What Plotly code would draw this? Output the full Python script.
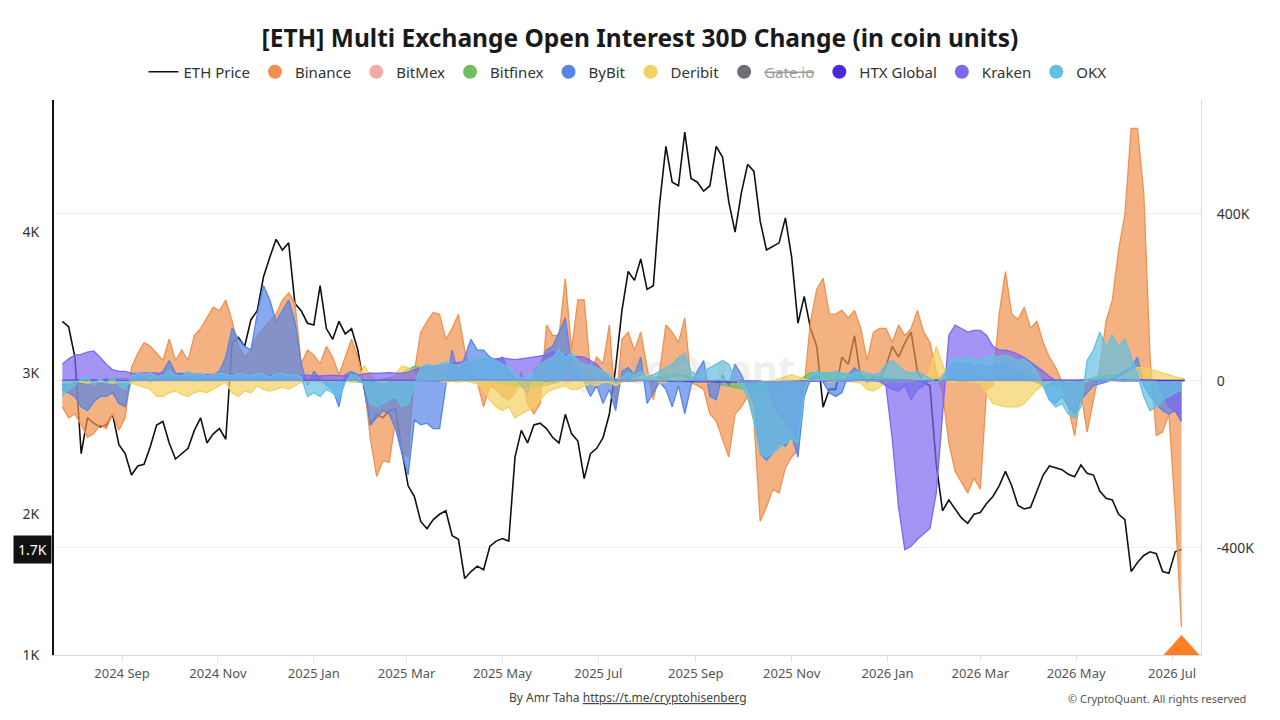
import pandas as pd
import plotly.graph_objects as go

# ---------------- data ----------------
# 4-day sampling for the main series, 14-day sampling for the near-zero ones
dates = pd.date_range("2024-07-25", periods=179, freq="4D")
dates_small = pd.date_range("2024-07-25", periods=52, freq="14D")

eth_price = [
    3366, 3328, 3112, 2428, 2682, 2644, 2618, 2631, 2707, 2492,
    2428, 2276, 2340, 2352, 2479, 2631, 2656, 2504, 2390, 2428,
    2466, 2593, 2682, 2504, 2568, 2606, 2530, 3214, 3252, 3188,
    3378, 3441, 3682, 3821, 3948, 3872, 3923, 3492, 3441, 3353,
    3340, 3619, 3315, 3239, 3366, 3277, 3315, 3163, 2910, 2631,
    2707, 2682, 2732, 2745, 2454, 2200, 2124, 1947, 1896, 1960,
    1998, 2023, 1846, 1820, 1542, 1592, 1630, 1605, 1770, 1808,
    1826, 1808, 2403, 2593, 2504, 2631, 2644, 2606, 2542, 2504,
    2707, 2568, 2517, 2251, 2428, 2466, 2542, 2707, 3036, 3441,
    3720, 3657, 3809, 3593, 3619, 4201, 4607, 4353, 4328, 4708,
    4379, 4353, 4290, 4328, 4607, 4531, 4214, 3999, 4277, 4480,
    4430, 4075, 3872, 3897, 3923, 4100, 3821, 3353, 3543, 3315,
    3188, 2758, 2884, 2884, 3112, 3062, 3264, 2960, 2935, 2973,
    2960, 3049, 3188, 3112, 3214, 3290, 3011, 2935, 2910, 2352,
    2023, 2099, 2036, 1972, 1934, 1998, 2010, 2074, 2124, 2200,
    2302, 2200, 2061, 2036, 2048, 2162, 2276, 2340, 2327, 2314,
    2281, 2264, 2347, 2289, 2276, 2162, 2112, 2099, 1998, 1960,
    1592, 1656, 1706, 1732, 1719, 1592, 1580, 1732, 1749,
]

# open interest 30D change, thousands of coins
binance_k = [
    -62, -88, -79, -105, -135, -126, -105, -114, -79, -118,
    -88, 32, 66, 92, 83, 66, 49, 100, 49, 74,
    49, 109, 126, 151, 177, 168, 194, 143, 83, 57,
    74, 109, 126, 143, 160, 194, 211, 186, 41, 74,
    62, 41, 83, 57, 15, 57, 100, 57, -3, -139,
    -229, -191, -195, -93, -165, -182, 23, 117, 143, 164,
    160, 100, 126, 160, 74, 15, -3, -62, -11, -20,
    -37, -45, -28, 23, -54, -79, -54, 134, 109, 109,
    245, 74, 194, 194, 23, 57, 41, 134, -62, 100,
    117, 74, 117, 32, -45, 23, 134, 117, 92, 151,
    -3, -11, -20, -79, -96, -139, -182, -79, -62, -37,
    -96, -336, -302, -259, -268, -208, -182, -165, -11, 143,
    220, 246, 160, 160, 169, 151, 169, 126, 49, 117,
    126, 126, 92, 134, 109, 126, 169, 117, 92, 23,
    -28, -148, -216, -242, -268, -233, -259, -20, -11, 160,
    262, 160, 147, 177, 126, 143, 92, 57, 32, -3,
    -62, -131, -28, -122, -45, 32, 143, 194, 314, 399,
    605, 605, 451, 57, -131, -122, -79, -310, -590,
]

bybit_k = [
    -20, -28, -37, -62, -71, -50, -37, -37, -28, -54,
    -62, 6, 15, 10, -3, 10, 23, 49, 19, 15,
    10, 15, 10, 6, 15, 23, 57, 126, 100, 83,
    74, 160, 228, 194, 143, 169, 194, 143, 41, -11,
    23, 6, -11, -20, -62, 15, 23, 15, -11, -105,
    -88, -71, -79, -114, -173, -225, -93, -105, -101, -114,
    -114, -11, 74, 15, 57, 100, 74, 74, 57, 49,
    57, 23, 6, -11, -28, 23, 40, 74, 83, 117,
    151, 40, 23, -3, -37, -11, -54, -20, -71, 23,
    32, 15, 57, -54, -28, -3, -20, -62, -11, -79,
    -11, 23, 49, -37, -45, 15, -11, 40, 15, -20,
    -54, -173, -190, -173, -148, -156, -131, -182, -37, 6,
    15, -3, -28, -37, -28, 15, 32, 15, -3, 6,
    -3, -11, -20, -24, -11, -45, -20, -11, 6, -3,
    15, 32, 49, 40, 45, 36, 40, 32, 40, 36,
    40, 32, 23, 15, 6, -3, -11, -45, -54, -37,
    -62, -79, -45, -28, -11, -7, -3, 6, 15, 23,
    32, 57, -11, -37, -54, -71, -79, -71, -96,
]

kraken_k = [
    40, 53, 62, 64, 69, 72, 57, 40, 27, 23,
    23, 19, 18, 19, 20, 19, 18, 19, 17, 18,
    19, 17, 16, 15, 16, 15, 14, 15, 16, 15,
    13, 14, 13, 12, 13, 14, 13, 12, 13, 14,
    13, 12, 13, 14, 13, 12, 13, 14, 17, 19,
    18, 19, 20, 19, 18, 21, 27, 31, 33, 36,
    36, 38, 42, 44, 47, 49, 53, 53, 51, 53,
    55, 53, 51, 53, 55, 57, 60, 62, 70, 66,
    62, 57, 59, 57, 49, 40, 23, 6, 0, 1,
    0, 1, 2, 1, 0, 1, 2, 1, 0, 1,
    2, 1, 0, 1, 2, 1, 0, -1, 0, 1,
    0, 0, -5, -54, -79, -96, -114, -139, -11, 0,
    1, 0, 1, 2, 1, 0, 1, 2, 1, 0,
    0, -11, -139, -302, -404, -396, -379, -366, -353, -268,
    -79, 109, 134, 126, 117, 121, 121, 109, 83, 74,
    74, 70, 64, 56, 45, 36, 23, 10, 2, 0,
    1, 0, 1, 2, 1, 0, 1, 2, 1, 0,
    1, 0, 1, 0, 0, -28, -62, -71, -96,
]

okx_k = [
    -37, -20, -11, 6, 10, -11, 6, -6, 10, -11,
    -20, 12, 18, 15, 20, 10, 15, 23, 15, 12,
    23, 15, 18, 12, 15, 19, 15, 12, 18, 15,
    12, 18, 15, 10, 15, 18, 12, 15, 10, -37,
    -28, -37, -20, -28, -45, -3, 15, 12, -11, -54,
    -62, -54, -45, -37, -62, -54, -11, 32, 40, 36,
    40, 45, 40, 36, 45, 49, 53, 57, 53, 49,
    40, 32, 15, 6, 10, 19, 40, 49, 57, 74,
    57, 66, 49, 40, 36, 32, 23, 15, -3, 10,
    19, 15, 23, 10, 15, 23, 32, 40, 57, 66,
    23, 15, 23, 32, 40, 49, 40, 6, -11, -37,
    -96, -173, -182, -173, -161, -148, -139, -148, -28, 15,
    23, 19, 19, 23, 19, 15, 19, 23, 19, 15,
    19, 40, 49, 36, 23, 19, 23, 15, 6, -3,
    6, 40, 57, 49, 57, 53, 49, 57, 62, 57,
    62, 57, 49, 53, 40, 23, -11, -45, -62, -54,
    -79, -88, -62, 49, 74, 117, 83, 109, 83, 100,
    57, 15, -37, -71, -62, -45, -37, -28, -20,
]

deribit_k = [
    -3, -5, 0, -3, -5, -3, 0, -3, -5, -3,
    -3, -5, -10, -15, -20, -37, -37, -28, -24, -32,
    -37, -28, -24, -28, -20, -11, -3, -28, -37, -24,
    -28, -11, -20, -24, -20, -15, -20, -11, -3, -3,
    0, -3, 0, -3, 10, 0, -3, 0, 36, 15,
    0, -3, 0, 15, 36, 32, 15, 23, 15, 6,
    0, -3, 0, -3, 0, -3, -7, -20, -45, -62,
    -71, -62, -88, -79, -71, -62, -45, -28, -20, -15,
    -11, -20, -20, -11, -7, -11, -3, -3, -11, -3,
    2, 6, 10, 15, 10, -5, -3, 6, 10, 5,
    0, -3, -5, -3, 0, 5, 0, -3, -5, -3,
    0, -5, -3, 0, 5, 10, 15, 10, 5, 0,
    3, 0, -3, 0, 2, 0, -3, -5, -20, -24,
    -15, -3, 0, -3, 0, -3, 0, 5, 23, 83,
    40, 0, -3, 0, -3, 0, -5, -28, -54, -58,
    -62, -62, -62, -54, -37, -20, -11, -3, 6, 0,
    -3, 0, 3, 0, 5, 0, 3, 0, 6, 15,
    23, 32, 32, 28, 23, 19, 15, 10, 6,
]

bitfinex_k = [
    -10, -5, 5, 5, 3, 5, 8, 5, 5, 10,
    8, 5, 3, 0, -5, 10, 35, 25, 10, 5,
    -5, -15, -10, 5, 10, 5, 0, 10, 15, 5,
    -10, -20, -25, -15, 20, 20, 15, 10, 5, 0,
    10, 15, 10, 5, 0, -10, -5, 10, 15, 5,
    0, 5,
]
htx_k = [
    2, 3, 2, 1, 2, 3, 2, 2, 1, 2,
    3, 2, 1, 2, 2, 3, 2, 1, 2, 3,
    3, 2, 1, 2, 2, 3, 2, 1, -1, -2,
    -2, -3, -2, -1, 1, 2, 2, 3, 2, 1,
    2, 1, 2, 2, 1, 1, 2, 2, 3, 2,
    1, 1,
]
bitmex_k = [
    1, 0, -1, 1, 0, 1, -1, 0, 1, 0,
    0, 1, 1, 0, -1, 0, 1, 1, 0, -1,
    0, 1, 0, -1, 0, 1, 0, 0, -1, 0,
    1, 0, -1, 0, 1, 0, 0, 1, 0, -1,
    0, 1, 0, 0, -1, 0, 1, 0, 0, 1,
    0, 0,
]
gateio_k = [
    4, 5, 3, 6, 4, 2, 3, 5, 6, 4,
    3, 2, 4, 5, 3, 2, 4, 6, 5, 3,
    2, 4, 3, 5, 4, 3, 2, 3, 4, 5,
    3, 2, 1, 3, 4, 5, 4, 3, 2, 3,
    4, 5, 3, 2, 3, 4, 3, 2, 3, 4,
    3, 2,
]

PRICE_TICKS = [1000, 2000, 3000, 4000]
PRICE_TICKTEXT = ["1K", "2K", "3K", "4K"]
OI_TICKS = [-400000, 0, 400000]
OI_TICKTEXT = ["-400K", "0", "400K"]
X_RANGE = ["2024-07-19 17:00", "2026-07-19 10:00"]
PRICE_RANGE = [1000, 4936]
OI_RANGE = [-656300, 673000]

COLORS = {
    "Binance": "#f0914f",
    "BitMex": "#f4aaa5",
    "Bitfinex": "#6dbf5f",
    "ByBit": "#5585e6",
    "Deribit": "#f5d062",
    "Gate.io": "#6e6e78",
    "HTX Global": "#4a2ad8",
    "Kraken": "#7d67ee",
    "OKX": "#62c0e3",
}


def rgba(hex_color, a):
    h = hex_color.lstrip("#")
    r, g, b = int(h[0:2], 16), int(h[2:4], 16), int(h[4:6], 16)
    return f"rgba({r},{g},{b},{a})"


def coins(vals_k):
    return [v * 1000 for v in vals_k]


fig = go.Figure()

# price line (drawn underneath the areas, on the base axis)
fig.add_trace(go.Scatter(
    x=dates, y=eth_price, name="ETH Price", mode="lines",
    line=dict(color="#111111", width=1.6), yaxis="y", showlegend=True,
))

area_series = [
    ("Binance", dates, binance_k),
    ("BitMex", dates_small, bitmex_k),
    ("Bitfinex", dates_small, bitfinex_k),
    ("ByBit", dates, bybit_k),
    ("Deribit", dates, deribit_k),
    ("HTX Global", dates_small, htx_k),
    ("Kraken", dates, kraken_k),
    ("OKX", dates, okx_k),
]
for name, xs, vals in area_series:
    c = COLORS[name]
    fig.add_trace(go.Scatter(
        x=xs, y=coins(vals), name=name, mode="lines", fill="tozeroy",
        line=dict(color=c, width=1.3), fillcolor=rgba(c, 0.7),
        yaxis="y2", showlegend=False,
    ))
# hidden series (struck through in legend)
fig.add_trace(go.Scatter(x=dates_small, y=coins(gateio_k), name="Gate.io",
                         visible=False, yaxis="y2", showlegend=False))

# legend entries (circles as in the original)
for name in ["Binance", "BitMex", "Bitfinex", "ByBit", "Deribit", "Gate.io",
             "HTX Global", "Kraken", "OKX"]:
    label = name
    if name == "Gate.io":
        label = "<span style='color:#9a9a9a'><s>Gate.io</s></span>"
    fig.add_trace(go.Scatter(
        x=[None], y=[None], mode="markers", name=label,
        marker=dict(size=14, color=COLORS[name]), yaxis="y2", showlegend=True,
    ))

# last-price marker triangle position in paper units
x0 = pd.Timestamp(X_RANGE[0])
x1 = pd.Timestamp(X_RANGE[1])
fx = (dates[-1] - x0) / (x1 - x0)
tri_w = 18 / 1147
tri_h = 20 / 555

fig.update_layout(
    width=1280, height=720,
    margin=dict(l=54, r=79, t=100, b=65),
    paper_bgcolor="white", plot_bgcolor="white",
    font=dict(family="Noto Sans, Open Sans, sans-serif", color="#333333"),
    title=dict(
        text="<b>[ETH] Multi Exchange Open Interest 30D Change (in coin units)</b>",
        x=0.5, xanchor="center", yref="container", y=1 - 38 / 720, yanchor="middle",
        font=dict(size=24.5, color="#1a1a1a"),
    ),
    legend=dict(
        orientation="h", x=0.5, xanchor="center", yref="container",
        y=1 - 72 / 720, yanchor="middle", font=dict(size=15, color="#333333"),
        bgcolor="rgba(0,0,0,0)", itemwidth=30,
    ),
    hovermode=False,
    xaxis=dict(
        type="date", range=X_RANGE, tick0="2024-09-01", dtick="M2",
        tickformat="%Y %b", showgrid=False, zeroline=False,
        showline=True, linecolor="#d9d9d9", linewidth=1,
        ticks="outside", ticklen=6, tickcolor="#e3e3e3",
        tickfont=dict(size=13, color="#555555"),
    ),
    yaxis=dict(
        range=PRICE_RANGE, tickvals=PRICE_TICKS, ticktext=PRICE_TICKTEXT,
        showgrid=False, zeroline=False, showline=True, linecolor="#111111",
        linewidth=2, tickfont=dict(size=14, color="#333333"),
        ticklabelstandoff=10,
    ),
    yaxis2=dict(
        overlaying="y", side="right", range=OI_RANGE,
        tickvals=OI_TICKS, ticktext=OI_TICKTEXT,
        showgrid=True, gridcolor="#f0f0f0", zeroline=False,
        showline=True, linecolor="#d9d9d9", linewidth=1,
        tickfont=dict(size=14, color="#333333"), ticklabelstandoff=12,
    ),
    shapes=[dict(
        type="path", xref="paper", yref="paper",
        path=f"M {fx - tri_w} 0 L {fx + tri_w} 0 L {fx} {tri_h} Z",
        fillcolor="#ff7f27", line=dict(width=0),
    )],
    annotations=[
        dict(xref="paper", x=0, xanchor="right", xshift=-2,
             yref="y", y=eth_price[-1], yanchor="middle",
             text=f"{eth_price[-1] / 1000:.1f}K", showarrow=False,
             bgcolor="#111111", borderpad=4,
             font=dict(color="white", size=14)),
        dict(xref="paper", yref="paper", x=(628 - 54) / 1147, y=(655 - 697) / 555,
             xanchor="center", yanchor="middle", showarrow=False,
             text="By Amr Taha <u>https://t.me/cryptohisenberg</u>",
             font=dict(size=12, color="#444444")),
        dict(xref="paper", yref="paper", x=(1248 - 54) / 1147, y=(655 - 698) / 555,
             xanchor="right", yanchor="middle", showarrow=False,
             text="© CryptoQuant. All rights reserved",
             font=dict(size=11, color="#555555")),
        dict(xref="paper", yref="paper", x=(665 - 54) / 1147, y=(655 - 368) / 555,
             xanchor="center", yanchor="middle", showarrow=False,
             text="<b>CryptoQuant</b>",
             font=dict(size=40, color="rgba(160,160,160,0.18)")),
    ],
)

fig.write_html("out.html", config={"displayModeBar": False})
